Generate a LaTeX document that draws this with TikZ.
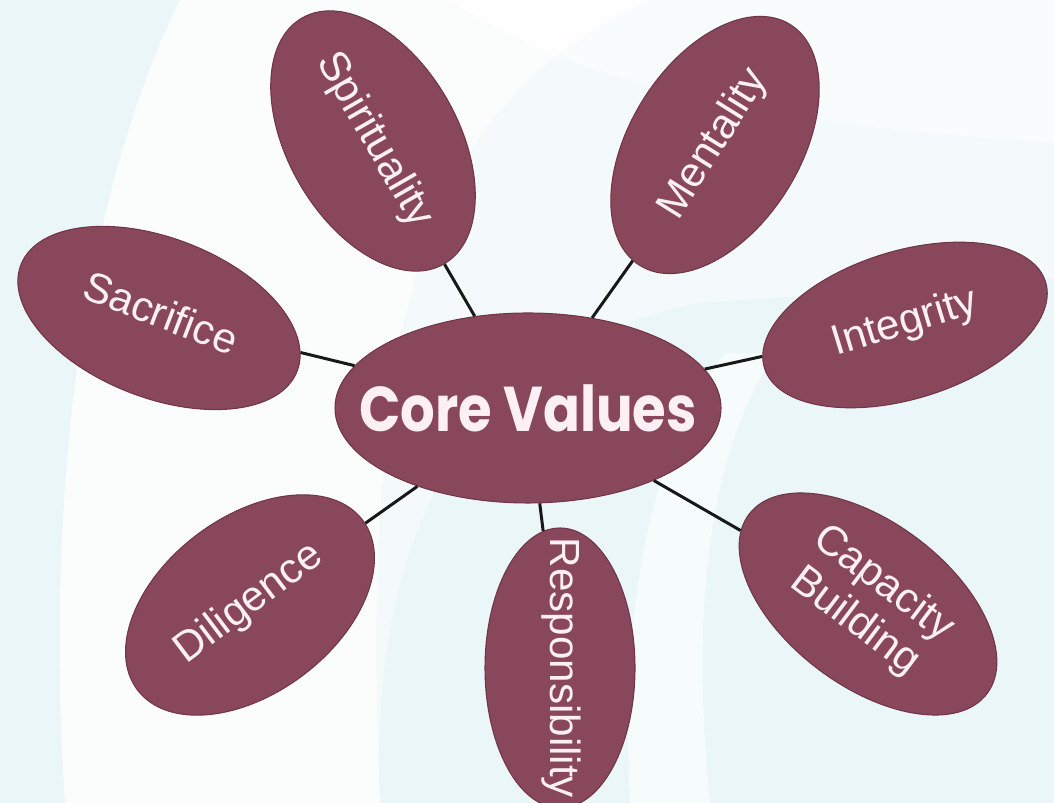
\documentclass[tikz,border=0pt]{standalone}
\usepackage{fontspec}
\usepackage{graphicx}
\setmainfont{Liberation Sans}
\newfontfamily\corefont{Poppins}
\usetikzlibrary{shapes.geometric}

\definecolor{petal}{RGB}{137,71,91}
\definecolor{petaledge}{RGB}{112,54,72}
\definecolor{petaltext}{RGB}{252,240,245}
\definecolor{bgcyan}{RGB}{234,246,247}

% text that does not widen its ellipse
\newcommand{\petallabel}[1]{\makebox[0pt]{\begin{tabular}{@{}c@{}}#1\end{tabular}}}

\tikzset{
  petal/.style={ellipse, fill=petal, draw=petaledge, line width=0.6pt,
    text=petaltext, inner sep=0pt,
    font=\fontsize{24}{27}\selectfont},
  link/.style={line width=1.7pt, draw={rgb,255:red,24;green,24;blue,24}},
}

\begin{document}
\begin{tikzpicture}
\useasboundingbox (0,0) rectangle (21.08,16.06);
\clip (0,0) rectangle (21.08,16.06);
% background swooshes
\fill[bgcyan] (0,0) rectangle (21.08,16.06);
\fill[white, opacity=0.85] (1.3,0) .. controls (0.9,6) and (1.6,12) .. (3.6,16.06) -- (13,16.06) .. controls (8.5,14) and (7.2,10) .. (7.6,0) -- cycle;
\fill[white, opacity=0.7] (9,16.06) .. controls (12,14) and (17,13.5) .. (21.08,13.2) -- (21.08,16.06) -- cycle;
\fill[white, opacity=0.5] (7.6,0) .. controls (7.4,5) and (9,9) .. (14,10) -- (21.08,10.5) -- (21.08,13.2) .. controls (17,13.5) and (12,14) .. (9,16.06) -- (13,16.06) .. controls (8.5,14) and (7.2,10) .. (7.6,0) -- cycle;
\fill[white, opacity=0.6] (12.6,0) .. controls (12.4,4) and (13,7) .. (14.5,9) -- (15.5,9) .. controls (14.2,7) and (13.8,4) .. (14.2,0) -- cycle;

% centre
\node[petal, minimum width=7.72cm, minimum height=3.8cm,
  font=\corefont\bfseries\fontsize{36}{38}\selectfont] (core) at (10.56, 7.90) {\makebox[0pt]{\scalebox{0.86}[1]{Core Values}}};

% outer values
\node[petal, minimum width=5.68cm, minimum height=3.40cm, rotate=-60] (spir) at (7.46, 13.24) {\petallabel{Spirituality}};
\node[petal, minimum width=5.68cm, minimum height=3.40cm, rotate=58] (ment) at (14.30, 13.16) {\petallabel{Mentality}};
\node[petal, minimum width=5.92cm, minimum height=3.20cm, rotate=-21] (sacr) at (3.18, 9.70) {\petallabel{Sacrifice}};
\node[petal, minimum width=5.88cm, minimum height=2.96cm, rotate=17] (inte) at (18.10, 9.56) {\petallabel{Integrity}};
\node[petal, minimum width=5.64cm, minimum height=3.52cm, rotate=37] (dili) at (5.00, 3.96) {\petallabel{Diligence}};
\node[petal, minimum width=5.60cm, minimum height=3.00cm, rotate=-90] (resp) at (11.20, 2.70) {\petallabel{Responsibility}};
\node[petal, minimum width=5.96cm, minimum height=3.28cm, rotate=-37] (capa) at (17.36, 3.98) {\petallabel{Capacity\\Building}};

\foreach \n in {spir,ment,sacr,inte,dili,resp,capa}
  \draw[link] (core) -- (\n);
\end{tikzpicture}
\end{document}
